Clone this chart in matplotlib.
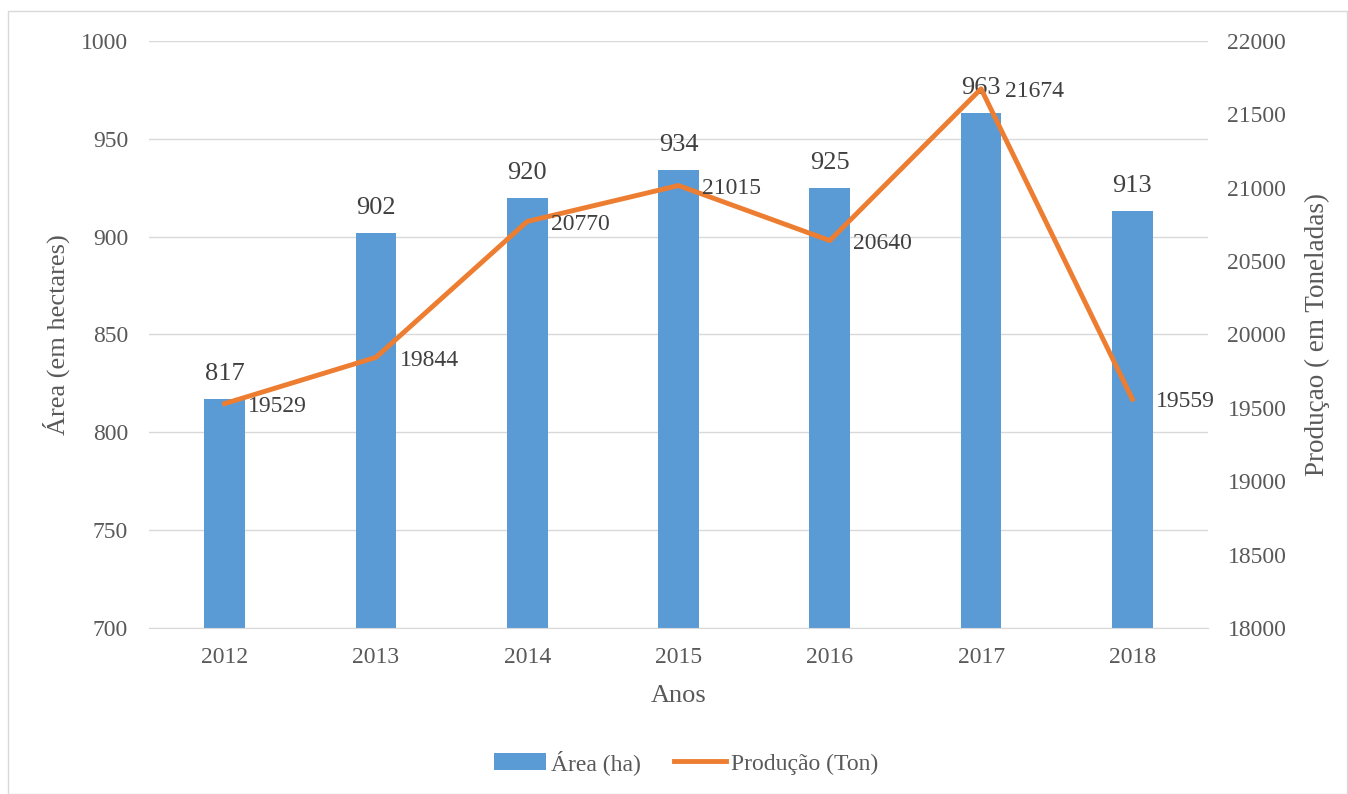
import matplotlib.pyplot as plt
from matplotlib.patches import Rectangle

# Data
anos = ["2012", "2013", "2014", "2015", "2016", "2017", "2018"]
area_ha = [817, 902, 920, 934, 925, 963, 913]
producao_ton = [19529, 19844, 20770, 21015, 20640, 21674, 19559]

plt.rcParams['font.family'] = ['Liberation Serif', 'DejaVu Serif']
TXT = '#595959'
BAR_C = '#5B9BD5'
LINE_C = '#ED7D31'

fig = plt.figure(figsize=(13.48, 7.94), dpi=100)
fig.patches.append(Rectangle((8 / 1348, 0), 1 - 9 / 1348, 1 - 11 / 794,
                             transform=fig.transFigure, fill=False,
                             edgecolor='#D9D9D9', linewidth=1))

ax = fig.add_axes([149 / 1348, 0.2091, 1059 / 1348, 0.7393])
x = list(range(len(anos)))
bars = ax.bar(x, area_ha, width=0.27, color=BAR_C, label='Área (ha)', zorder=2)
ax.set_ylim(700, 1000)
ax.set_yticks(range(700, 1001, 50))
ax.set_xlim(-0.5, len(anos) - 0.5)
ax.set_xticks(x)
ax.set_xticklabels(anos)
ax.yaxis.grid(True, color='#D9D9D9', linewidth=1, zorder=0)
ax.set_axisbelow(True)
for s in ['top', 'left', 'right']:
    ax.spines[s].set_visible(False)
ax.spines['bottom'].set_color('#D9D9D9')
ax.tick_params(length=0, labelsize=17, colors=TXT)
ax.tick_params(axis='y', pad=15)
ax.tick_params(axis='x', pad=14)
ax.set_xlabel('Anos', fontsize=19, color=TXT, labelpad=12)
ax.set_ylabel('Área (em hectares)', fontsize=19, color=TXT, labelpad=8)

for xi, v in zip(x, area_ha):
    ax.annotate(str(v), (xi, v), xytext=(0, 10), textcoords='offset points',
                ha='center', va='bottom', fontsize=19, color='#404040')

ax2 = ax.twinx()
line, = ax2.plot(x, producao_ton, color=LINE_C, linewidth=3.5,
                 label='Produção (Ton)', zorder=3)
ax2.set_ylim(18000, 22000)
ax2.set_yticks(range(18000, 22001, 500))
for s in ['top', 'left', 'right', 'bottom']:
    ax2.spines[s].set_visible(False)
ax2.tick_params(length=0, labelsize=17, colors=TXT, pad=14)
ax2.set_ylabel('Produçao ( em Toneladas)', fontsize=19.5, color=TXT, labelpad=13)

for xi, v in zip(x, producao_ton):
    ax2.annotate(str(v), (xi, v), xytext=(17, -2), textcoords='offset points',
                 ha='left', va='center', fontsize=17, color='#404040')

fig.legend([bars, line], ['Área (ha)', 'Produção (Ton)'], loc='center',
           bbox_to_anchor=(0.509, 0.04), ncol=2, frameon=False, fontsize=17,
           labelcolor=TXT, handlelength=2.2, columnspacing=1.4, handletextpad=0.2)

fig.savefig('out.png', dpi=100)
